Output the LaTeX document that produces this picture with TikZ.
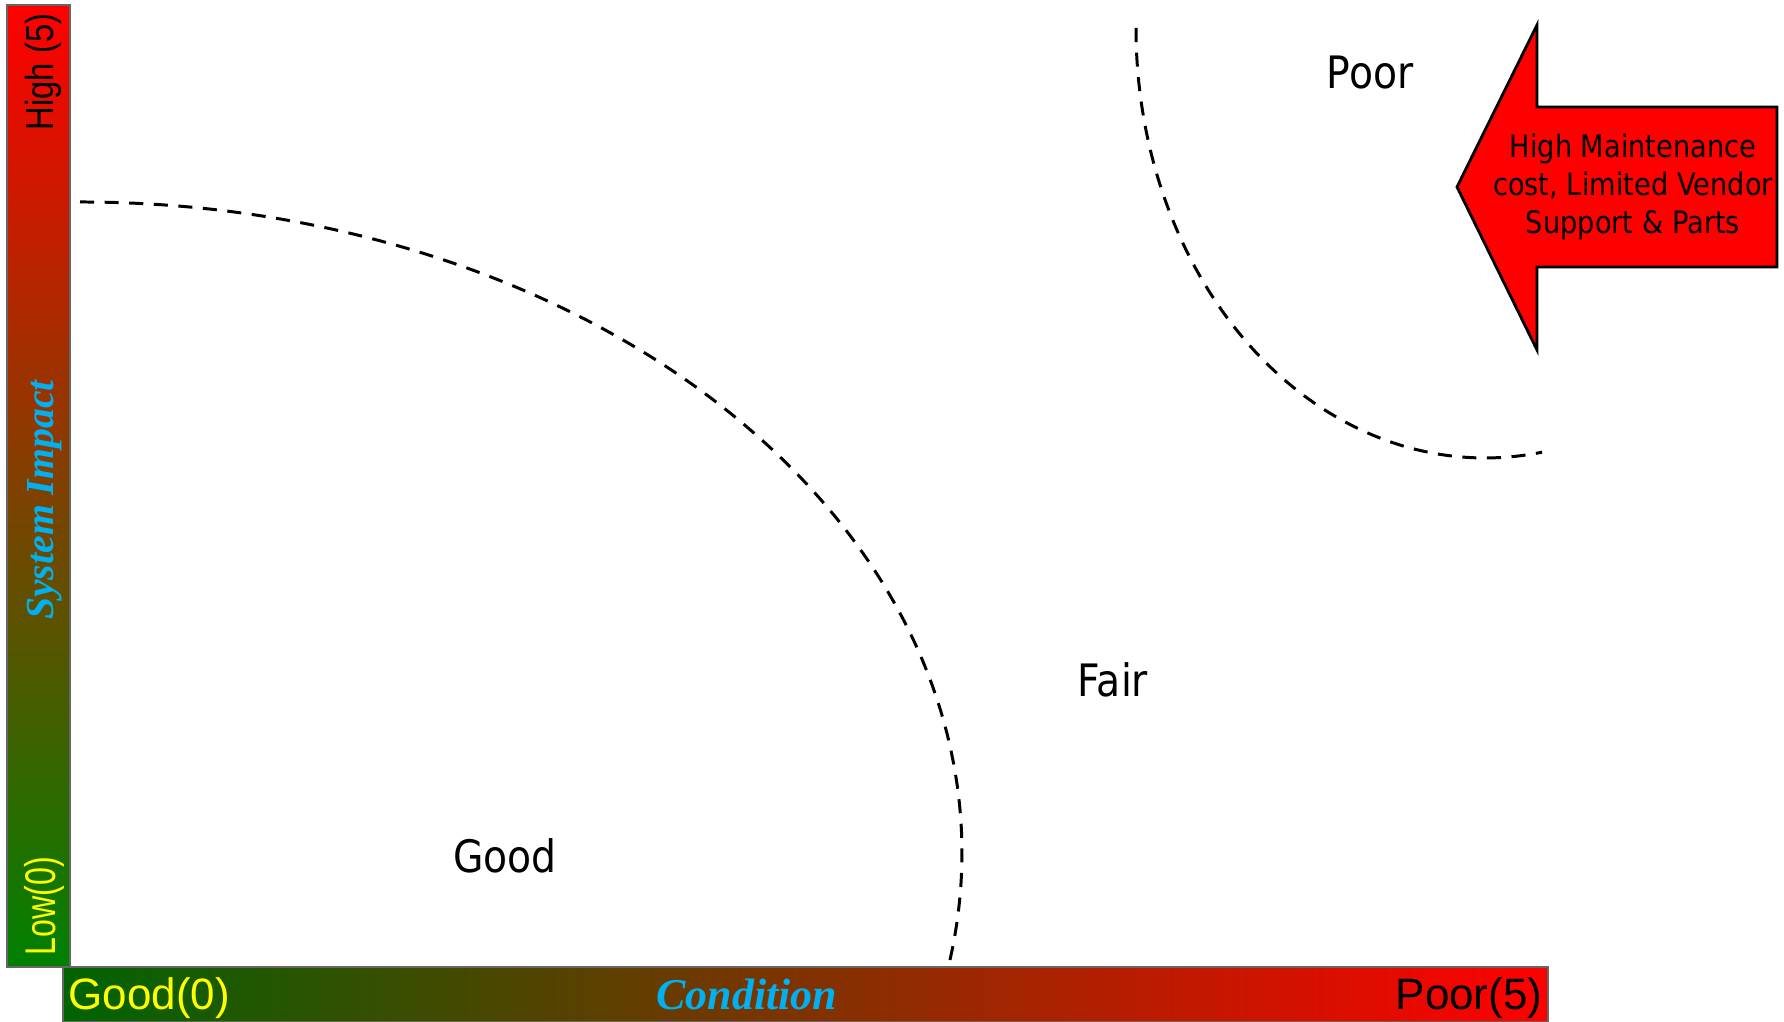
\documentclass[tikz,border=0pt]{standalone}
\usepackage{fontspec}
\usepackage{graphicx}
\setmainfont{DejaVu Sans}[FakeStretch=0.88]
\newfontfamily\axisfont{Liberation Sans}
\newfontfamily\ttlfont{Liberation Serif}

\definecolor{barred}{RGB}{255,0,0}
\definecolor{bargreen}{RGB}{0,128,0}
\definecolor{bardkgreen}{RGB}{0,100,0}
\definecolor{lblyellow}{RGB}{255,255,0}
\definecolor{ttlblue}{RGB}{0,176,240}

\begin{document}
\begin{tikzpicture}[
    x=0.01cm, y=0.01cm,
    zonelbl/.style={anchor=base, inner sep=0pt, font=\fontsize{12.7}{15}\selectfont},
    axlbl/.style={anchor=base, inner sep=0pt, font=\axisfont\fontsize{12.5}{15}\selectfont},
    axttl/.style={anchor=base, inner sep=0pt, text=ttlblue,
                  font=\ttlfont\bfseries\itshape\fontsize{12.5}{15}\selectfont},
    bar/.style={draw=black!60, line width=0.4pt},
    boundary/.style={dash pattern=on 4pt off 3pt, line width=0.85pt},
    callout/.style={fill=barred, draw=black, line width=0.8pt, line join=miter},
    calltxt/.style={align=center, inner sep=0pt, font=\fontsize{8.8}{10.8}\selectfont}
  ]
    \useasboundingbox (0,0) rectangle (1784,1022);

    % Axis bars
    \shadedraw[bar, bottom color=bargreen, top color=barred] (7,55) rectangle (70,1017);
    \shadedraw[bar, left color=bardkgreen, right color=barred] (63,0) rectangle (1548,55);

    % Axis labels
    \node[axlbl, rotate=90, font=\axisfont\fontsize{11.1}{13}\selectfont] (high) at (53,950) {\scalebox{0.84}[1]{High (5)}};
    \node[axlbl, rotate=90, text=lblyellow, font=\axisfont\fontsize{12.2}{14}\selectfont] (low) at (55,116) {\scalebox{0.75}[1]{Low(0)}};
    \node[axttl, rotate=90, font=\ttlfont\bfseries\itshape\fontsize{11.3}{13}\selectfont] (impact) at (53,522) {System Impact};
    \node[axlbl, anchor=base west, text=lblyellow] (good0) at (68,12) {Good(0)};
    \node[axlbl, anchor=base east] (poor5) at (1543,12) {Poor(5)};
    \node[axttl] (cond) at (747,12) {Condition};

    % Zone boundaries
    \draw[boundary] (80,820) arc[start angle=90, end angle=-9.55, x radius=882, y radius=651];
    \draw[boundary] (1136,994) arc[start angle=180, end angle=279.4, x radius=349, y radius=430];

    % Zone labels
    \node[zonelbl] (good) at (505,149) {Good};
    \node[zonelbl] (fair) at (1113,325) {Fair};
    \node[zonelbl] (poor) at (1370,933) {Poor};

    % Callout arrow
    \draw[callout] (1457,835) -- (1537,997) -- (1537,915) -- (1777,915)
        -- (1777,755) -- (1537,755) -- (1537,672) -- cycle;
    \node[calltxt] (cost) at (1633,835) {High Maintenance\\cost, Limited Vendor\\Support \& Parts};

  \end{tikzpicture}
\end{document}
